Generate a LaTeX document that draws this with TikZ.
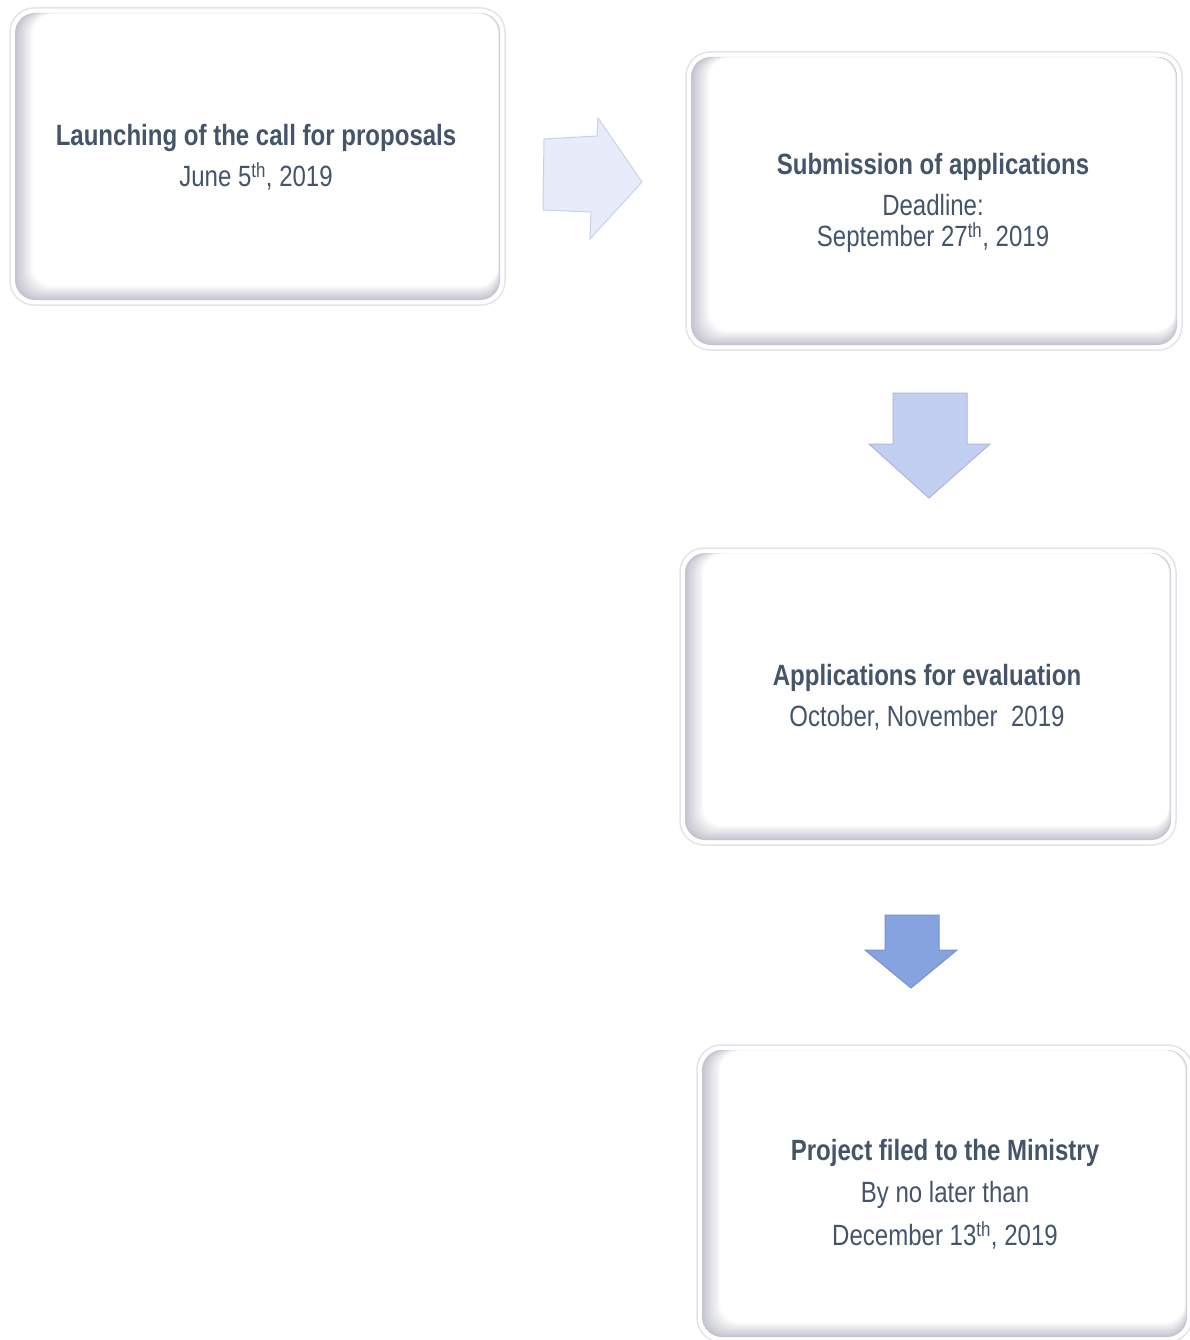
\documentclass[tikz,border=0pt]{standalone}
\usepackage{fontspec}
\setmainfont{Liberation Sans}[FakeStretch=0.82]
\usetikzlibrary{calc}
\definecolor{txt}{HTML}{44546A}
\definecolor{shd}{HTML}{C4C4D0}
\definecolor{rim}{HTML}{E4E4E8}
\definecolor{arA}{HTML}{E7EBFA}
\definecolor{arAe}{HTML}{C9D1EA}
\definecolor{arB}{HTML}{C3CFF0}
\definecolor{arBe}{HTML}{A9B8E2}
\definecolor{arC}{HTML}{87A3DF}
\definecolor{arCe}{HTML}{7390D2}
\newcommand{\sth}{\textsuperscript{th}}
\newcommand{\pbox}[4]{%
  \fill[white,draw=rim,line width=1.5pt,rounded corners=24pt] (#1,#2) rectangle (#3,#4);
  \foreach \i in {0,...,14}{%
    \pgfmathsetmacro{\mix}{\i*100/14}
    \fill[white!\mix!shd,rounded corners=20pt]
      ($(#1,#2)+(5+1.3*\i,5+0.05*\i)$) rectangle ($(#3,#4)+(-5-0.15*\i,-5-1.0*\i)$);
  }%
}
\tikzset{
  boxtext/.style={text=txt,font=\fontsize{29.3}{41}\selectfont,align=center,inner sep=0pt},
  blockarrow/.style={line width=1pt,line join=miter}
}
\begin{document}
\begin{tikzpicture}[x=1pt,y=-1pt]
\useasboundingbox (0,0) rectangle (1190,1340);
% boxes
\pbox{10}{8}{505}{305}
\pbox{686}{52}{1182}{350}
\pbox{680}{548}{1176}{845}
\pbox{697}{1045}{1192}{1342}
\node[boxtext] (b1) at (256,157) {\textbf{Launching of the call for proposals}\\June 5\sth, 2019};
\node[boxtext] (b2) at (933,203) {\textbf{Submission of applications}\\Deadline:\\[-10pt]September 27\sth, 2019};
\node[boxtext] (b3) at (927,697) {\textbf{Applications for evaluation}\\October, November\ \ 2019};
\node[boxtext] (b4) at (945,1194) {\textbf{Project filed to the Ministry}\\[1.5pt]By no later than\\[1.5pt]December 13\sth, 2019};
% block arrows
\draw[blockarrow,fill=arA,draw=arAe] (544,139) -- (597,136) -- (598,118) -- (642,182) -- (590,239) -- (591,212) -- (543,210) -- cycle;
\draw[blockarrow,fill=arB,draw=arBe] (893,393) -- (967,393) -- (967,444) -- (990,444) -- (929,498) -- (869,444) -- (893,444) -- cycle;
\draw[blockarrow,fill=arC,draw=arCe] (885,915) -- (939,915) -- (939,950) -- (957,950) -- (911,988) -- (865,950) -- (885,950) -- cycle;
\end{tikzpicture}
\end{document}
